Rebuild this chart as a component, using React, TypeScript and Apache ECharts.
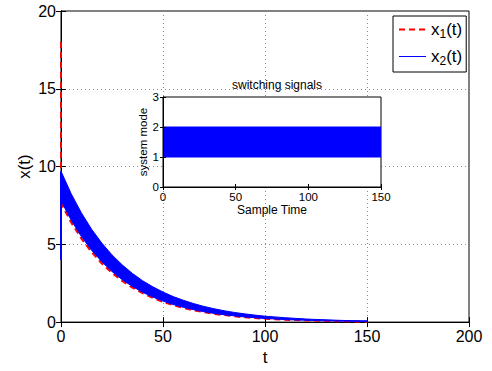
import React, { useEffect, useRef } from "react";
import * as echarts from "echarts";

// ---- data ----
const times = [0, 5, 10, 15, 20, 25, 30, 35, 40, 45, 50, 55, 60, 65, 70, 75, 80, 85, 90, 95, 100, 105, 110, 115, 120, 125, 130, 135, 140, 145, 150];
// upper / lower envelope of the oscillating x2(t)
const x2Upper = [9.7, 8.25, 7.02, 5.97, 5.08, 4.32, 3.68, 3.13, 2.66, 2.27, 1.93, 1.64, 1.4, 1.19, 1.01, 0.86, 0.73, 0.62, 0.53, 0.45, 0.38, 0.33, 0.28, 0.24, 0.2, 0.17, 0.15, 0.12, 0.1, 0.09, 0.08];
const x2Lower = [7.8, 6.55, 5.5, 4.62, 3.88, 3.25, 2.73, 2.29, 1.92, 1.61, 1.35, 1.13, 0.95, 0.8, 0.67, 0.56, 0.47, 0.4, 0.33, 0.28, 0.23, 0.2, 0.16, 0.14, 0.12, 0.1, 0.08, 0.07, 0.06, 0.05, 0.04];
const x2StartSpan = [4.0, 9.7];
const x1Start = 18;
const x1 = [7.65, 6.4, 5.37, 4.5, 3.77, 3.16, 2.65, 2.22, 1.86, 1.56, 1.3, 1.09, 0.91, 0.76, 0.64, 0.53, 0.45, 0.37, 0.31, 0.26, 0.22, 0.18, 0.15, 0.13, 0.11, 0.09, 0.07, 0.06, 0.05, 0.04, 0.03];
// switching signal (inset): mode toggles between 1 and 2 at every sample
const switchTimes = [0, 150];
const modeLow = [1, 1];
const modeHigh = [2, 2];

const FONT = "'Liberation Sans', Arial, Helvetica, sans-serif";

function band(name: string, xs: number[], lo: number[], hi: number[], xi: number, yi: number, z: number) {
  return {
    type: "custom",
    name,
    xAxisIndex: xi,
    yAxisIndex: yi,
    z,
    silent: true,
    clip: true,
    data: [[xs[0], lo[0]]],
    renderItem: (_p: any, api: any) => {
      const top = xs.map((x, i) => api.coord([x, hi[i]]));
      const bot = xs.map((x, i) => api.coord([x, lo[i]])).reverse();
      return {
        type: "polygon",
        shape: { points: top.concat(bot) },
        style: { fill: "#0000ff", stroke: "#0000ff", lineWidth: 1 },
      };
    },
  };
}

export default function App() {
  const ref = useRef<HTMLDivElement>(null);
  useEffect(() => {
    const chart = echarts.init(ref.current!, null, { renderer: "svg" });
    const axisLine = { show: true, lineStyle: { color: "#000", width: 1 } };
    const mainLabel = { color: "#000", fontSize: 16, fontFamily: FONT };
    const insetLabel = { color: "#000", fontSize: 11.5, fontFamily: FONT };
    const gridLine = { show: true, lineStyle: { color: "#8a8a8a", type: [1, 3], width: 1 } };
    const hiddenSymbol = { color: "transparent", borderWidth: 0, opacity: 0 };
    chart.setOption({
      animation: false,
      backgroundColor: "#fff",
      title: {
        text: "switching signals",
        left: 272,
        top: 74,
        textAlign: "center",
        textStyle: { fontSize: 12, fontWeight: "normal", color: "#000", fontFamily: FONT },
      },
      grid: [
        { left: 61, right: 23, top: 11, bottom: 40, show: true, borderColor: "#000", borderWidth: 1, backgroundColor: "transparent" },
        { left: 163, right: 111, top: 97, bottom: 184, show: true, borderColor: "#000", borderWidth: 1, backgroundColor: "#fff", z: 3 },
      ],
      legend: {
        orient: "vertical",
        left: 393,
        top: 16,
        itemWidth: 27,
        itemHeight: 14,
        itemGap: 8,
        padding: [5, 4, 5, 5],
        borderColor: "#000",
        borderWidth: 1,
        backgroundColor: "#fff",
        z: 10,
        itemStyle: hiddenSymbol,
        data: [
          { name: "x1(t)", itemStyle: hiddenSymbol },
          { name: "x2(t)", itemStyle: hiddenSymbol, lineStyle: { width: 1 } },
        ],
        formatter: (n: string) => (n === "x1(t)" ? "{a|x}{s|1}{a|(t)}" : "{a|x}{s|2}{a|(t)}"),
        textStyle: {
          color: "#000",
          rich: {
            a: { fontSize: 17, fontFamily: FONT, color: "#000" },
            s: { fontSize: 12, fontFamily: FONT, color: "#000", padding: [9, 0, 0, 0] },
          },
        },
      },
      xAxis: [
        {
          type: "value", gridIndex: 0, min: 0, max: 200, interval: 50,
          name: "t", nameLocation: "middle", nameGap: 16,
          nameTextStyle: { fontSize: 17, color: "#000", fontFamily: FONT },
          axisLine, axisTick: { show: true, inside: true, length: 5, lineStyle: { color: "#000" } },
          axisLabel: { ...mainLabel, margin: 6 }, splitLine: gridLine,
        },
        {
          type: "value", gridIndex: 0, min: 0, max: 200, interval: 50, position: "top",
          axisLine, axisTick: { show: true, inside: true, length: 5, lineStyle: { color: "#000" } },
          axisLabel: { show: false }, splitLine: { show: false },
        },
        {
          type: "value", gridIndex: 1, min: 0, max: 150, interval: 50, z: 5,
          name: "Sample Time", nameLocation: "middle", nameGap: 15,
          nameTextStyle: { fontSize: 12, color: "#000", fontFamily: FONT },
          axisLine, axisTick: { show: true, inside: true, length: 3, lineStyle: { color: "#000" } },
          axisLabel: { ...insetLabel, margin: 4 }, splitLine: { show: false },
        },
        {
          type: "value", gridIndex: 1, min: 0, max: 150, interval: 50, position: "top", z: 5,
          axisLine, axisTick: { show: true, inside: true, length: 3, lineStyle: { color: "#000" } },
          axisLabel: { show: false }, splitLine: { show: false },
        },
      ],
      yAxis: [
        {
          type: "value", gridIndex: 0, min: 0, max: 20, interval: 5,
          name: "x(t)", nameLocation: "middle", nameGap: 28, nameMoveOverlap: false,
          nameTextStyle: { fontSize: 17, color: "#000", fontFamily: FONT },
          axisLine, axisTick: { show: true, inside: true, length: 5, lineStyle: { color: "#000" } },
          axisLabel: { ...mainLabel, margin: 5 }, splitLine: gridLine,
        },
        {
          type: "value", gridIndex: 0, min: 0, max: 20, interval: 5, position: "right",
          axisLine, axisTick: { show: true, inside: true, length: 5, lineStyle: { color: "#000" } },
          axisLabel: { show: false }, splitLine: { show: false },
        },
        {
          type: "value", gridIndex: 1, min: 0, max: 3, interval: 1, z: 5,
          name: "system mode", nameLocation: "middle", nameGap: 13,
          nameTextStyle: { fontSize: 11.5, color: "#000", fontFamily: FONT },
          axisLine, axisTick: { show: true, inside: true, length: 3, lineStyle: { color: "#000" } },
          axisLabel: { ...insetLabel, margin: 4 }, splitLine: { show: false },
        },
        {
          type: "value", gridIndex: 1, min: 0, max: 3, interval: 1, position: "right", z: 5,
          axisLine, axisTick: { show: true, inside: true, length: 3, lineStyle: { color: "#000" } },
          axisLabel: { show: false }, splitLine: { show: false },
        },
      ],
      series: [
        {
          type: "line",
          name: "x1(t)",
          xAxisIndex: 0,
          yAxisIndex: 0,
          symbol: "none",
          z: 2,
          lineStyle: { color: "#ff0000", width: 2, type: [6, 4] },
          itemStyle: { color: "#ff0000" },
          data: [[0, x1Start], ...times.map((t, i) => [t, x1[i]])],
        },
        band("x2band", times, x2Lower, x2Upper, 0, 0, 3),
        {
          type: "line",
          name: "x2(t)",
          xAxisIndex: 0,
          yAxisIndex: 0,
          symbol: "none",
          z: 3,
          lineStyle: { color: "#0000ff", width: 2 },
          itemStyle: { color: "#0000ff" },
          data: [[0, x2StartSpan[0]], [0, x2StartSpan[1]]],
        },
        band("mode", switchTimes, modeLow, modeHigh, 2, 2, 4),
      ],
    });
    return () => chart.dispose();
  }, []);
  return <div ref={ref} style={{ width: 492, height: 371, position: "absolute", left: 0, top: 0 }} />;
}
